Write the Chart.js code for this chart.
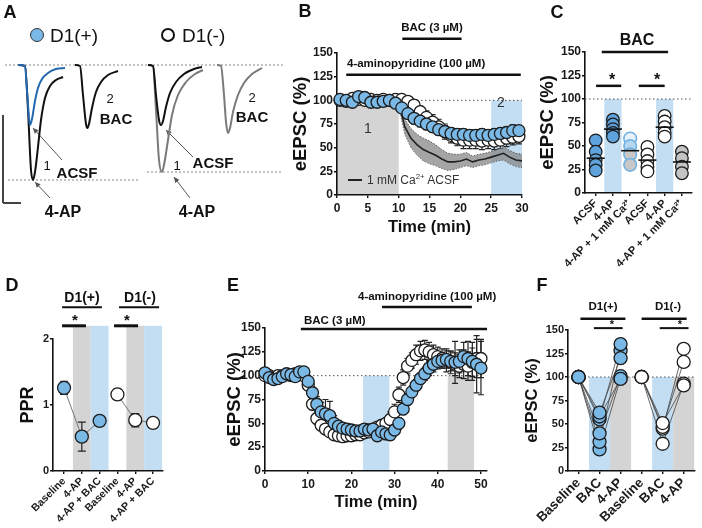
<!DOCTYPE html>
<html>
<head>
<meta charset="utf-8">
<script src="https://cdn.jsdelivr.net/npm/chart.js@4.4.1/dist/chart.umd.min.js"></script>
<style>
  body { margin: 0; background: #fff; }
  #fig { position: relative; width: 702px; height: 528px; overflow: hidden; background: #fff;
         font-family: Arial, "Liberation Sans", Helvetica, sans-serif; color: #111; }
  #fig canvas { position: absolute; }
  .t { position: absolute; white-space: nowrap; line-height: 1; }
  .t sup { font-size: 65%; line-height: 0; }
  .dot { position: absolute; border-radius: 50%; box-sizing: border-box; }
</style>
</head>
<body>
<div id="fig">
  <canvas id="chA" width="285" height="230" style="left:0;top:0"></canvas>
  <canvas id="chB" width="270" height="240" style="left:270px;top:0"></canvas>
  <canvas id="chC" width="174" height="270" style="left:528px;top:0"></canvas>
  <canvas id="chD" width="175" height="258" style="left:0;top:270px"></canvas>
  <canvas id="chE" width="290" height="258" style="left:215px;top:270px"></canvas>
  <canvas id="chF" width="197" height="258" style="left:505px;top:270px"></canvas>
</div>
<script>
// ====== DATA ======
// A: example traces (time in ms, current in pA)
const tPlus4AP = [18, 25, 28, 31, 33, 35, 38, 41, 45, 50, 56, 63]
const iPlus4AP = [0, -10, -450, -1050, -1150, -1070, -820, -550, -330, -210, -150, -120]
const tPlusAcsf = [18, 25, 27, 29, 30, 32, 35, 38, 42, 48, 56, 65]
const iPlusAcsf = [0, -10, -250, -530, -600, -540, -360, -230, -140, -80, -40, -30]
const tPlusBac = [75, 80, 83, 86, 87.5, 89, 92, 96, 101, 108, 118]
const iPlusBac = [0, -10, -300, -590, -630, -590, -430, -270, -170, -100, -60]
const tMinusAcsf = [148, 153, 156, 159, 161, 163, 166, 170, 176, 184, 194, 202]
const iMinusAcsf = [0, -10, -300, -550, -600, -560, -420, -280, -170, -90, -40, -20]
const tMinus4AP = [148, 153, 156, 159, 162, 164, 168, 172, 178, 186, 195, 203]
const iMinus4AP = [0, -10, -450, -950, -1070, -1000, -750, -500, -300, -170, -90, -50]
const tMinusBac = [217, 221, 224, 226, 228, 230, 233, 238, 244, 252, 262]
const iMinusBac = [0, -10, -300, -570, -680, -630, -470, -300, -180, -90, -30]

// B: time course, 4-AP then BAC
const timeB = [0.5, 1.5, 2.5, 3.5, 4.5, 5.5, 6.5, 7.5, 8.5, 9.5, 10.5, 11.5, 12.5, 13.5, 14.5,
    15.5, 16.5, 17.5, 18.5, 19.5, 20.5, 21.5, 22.5, 23.5, 24.5, 25.5, 26.5, 27.5, 28.5, 29.5]
const bPlus = [101, 100, 98, 104, 103, 98, 98, 99, 100, 97, 92, 86, 81, 78, 75, 72, 69, 67, 65, 64,
    64, 63, 63, 64, 63, 64, 65, 66, 68, 68]
const bPlusErr = [3, 3, 3, 3, 3, 3, 3, 3, 6, 3, 4, 5, 6, 6, 6, 6, 6, 6, 6, 6, 6, 6, 6, 6, 6, 6, 6, 6, 6, 5]
const bMinus = [100, 99, 102, 101, 100, 101, 100, 101, 100, 101, 101, 99, 95, 88, 82, 77, 72, 67, 63, 60,
    58, 58, 58, 57, 58, 57, 58, 60, 61, 62]
const bMinusErr = [3, 3, 3, 3, 3, 3, 3, 3, 3, 3, 3, 4, 5, 6, 7, 8, 8, 8, 8, 8, 9, 9, 9, 9, 9, 9, 9, 9, 8, 8]
const timeCa = [10, 11, 12, 13, 14, 15, 16, 17, 18, 19, 20, 21, 22, 23, 24, 25, 26, 27, 28, 29, 30]
const caMean = [98, 72, 60, 53, 48, 45, 42, 38, 35, 35, 36, 38, 35, 37, 38, 40, 42, 44, 40, 37, 36]
const caSem = [4, 8, 10, 11, 12, 12, 11, 10, 9, 8, 7, 7, 6, 6, 6, 6, 6, 7, 7, 7, 7]

// C: eEPSC after BAC per condition
const labelsC = ['ACSF', '4-AP', '4-AP + 1 mM Ca²⁺', 'ACSF', '4-AP', '4-AP + 1 mM Ca²⁺']
const cPlusAcsf = [56, 44, 35, 30, 24]
const cPlus4AP = [78, 73, 68, 64, 60]
const cPlusCa = [58, 50, 41, 30]
const cMinusAcsf = [49, 41, 34, 28, 23]
const cMinus4AP = [82, 76, 70, 64, 60]
const cMinusCa = [44, 37, 28, 21]
const meansC = [37, 68, 45, 35, 70, 33]

// D: paired-pulse ratio
const labelsD = ['Baseline', '4-AP', '4-AP + BAC', 'Baseline', '4-AP', '4-AP + BAC']
const pprPlus = [1.26, 0.52, 0.76]
const pprPlusErr = [0.1, 0.22, 0.06]
const pprMinus = [1.16, 0.77, 0.73]
const pprMinusErr = [0.08, 0.1, 0.08]

// E: time course, BAC then 4-AP
const timeE = [0, 1, 2, 3, 4, 5, 6, 7, 8, 9, 10, 11, 12, 13, 14, 15, 16, 17, 18, 19, 20, 21, 22, 23, 24, 25,
    26, 27, 28, 29, 30, 31, 32, 33, 34, 35, 36, 37, 38, 39, 40, 41, 42, 43, 44, 45, 46, 47, 48, 49, 50]
const ePlus = [103, 98, 96, 97, 99, 102, 101, 99, 104, 104, 94, 82, 70, 62, 60, 58, 50, 47, 45, 44,
    43, 42, 42, 44, 43, 44, 37, 41, 39, 38, 43, 50, 65, 75, 83, 90, 97, 102, 108, 112,
    115, 116, 117, 115, 114, 115, 120, 118, 115, 112, 108]
const ePlusErr = [3, 3, 3, 3, 3, 3, 3, 3, 3, 3, 4, 6, 8, 10, 15, 15, 8, 6, 5, 5, 5, 5, 5, 5, 5, 5, 6, 6, 6, 5,
    5, 6, 6, 6, 6, 6, 6, 7, 8, 8, 8, 8, 9, 10, 22, 12, 15, 18, 20, 30, 28]
const eMinus = [100, 100, 98, 100, 100, 101, 100, 102, 101, 100, 90, 70, 55, 48, 44, 41, 38, 37, 36, 37,
    37, 38, 38, 40, 41, 44, 46, 48, 50, 54, 62, 80, 98, 110, 116, 122, 126, 127, 125, 122,
    120, 118, 116, 114, 112, 110, 112, 110, 114, 118, 118]
const eMinusErr = [3, 3, 3, 3, 3, 3, 3, 3, 3, 3, 5, 6, 6, 5, 5, 5, 5, 5, 5, 5, 5, 5, 5, 5, 5, 5, 5, 5, 6, 8,
    8, 8, 8, 8, 8, 10, 10, 10, 10, 10, 10, 10, 12, 12, 12, 12, 15, 15, 15, 20, 20]

// F: individual cells, Baseline -> BAC -> 4-AP
const labelsF = ['Baseline', 'BAC', '4-AP', 'Baseline', 'BAC', '4-AP']
const fBaseline = 100
const fPlusBac = [62, 58, 55, 40, 31, 23]
const fPlus4AP = [120, 98, 135, 101, 128, 99]
const fMinusBac = [51, 47, 45, 29]
const fMinus4AP = [91, 116, 130, 93]

// ====== STYLE ======
const BLUE = '#7ab8e6'
const BLUE_C = '#5fa3dc'
const EDGE = '#1c1c1c'
const SHADE_BLUE = '#c3def3'
const SHADE_GRAY = '#d4d4d4'

Chart.defaults.font.family = 'Arial, "Liberation Sans", Helvetica, sans-serif'
Chart.defaults.font.weight = 'bold'
Chart.defaults.color = '#1a1a1a'

const xy = (xs, ys) => xs.map((x, i) => ({ x, y: ys[i] }))
const at = (x, ys) => ys.map((y) => ({ x, y }))

// shaded boxes + annotation lines, in data units
function marks(spec) {
    return {
        id: 'marks',
        beforeDraw(chart) {
            const { ctx, scales: { x, y } } = chart
            ;(spec.boxes || []).forEach((b) => {
                const l = x.getPixelForValue(b.x0), r = x.getPixelForValue(b.x1)
                const t = y.getPixelForValue(b.y1), bt = y.getPixelForValue(b.y0)
                ctx.fillStyle = b.color
                ctx.fillRect(l, t, r - l, bt - t)
            })
        },
        beforeDatasetsDraw(chart) {
            const { ctx, scales: { x, y } } = chart
            ;(spec.lines || []).forEach((s) => {
                const x0 = x.getPixelForValue(s.x0), x1 = x.getPixelForValue(s.x1 ?? s.x0)
                const y0 = y.getPixelForValue(s.y0), y1 = y.getPixelForValue(s.y1 ?? s.y0)
                ctx.save()
                ctx.strokeStyle = s.color || '#111'
                ctx.fillStyle = s.color || '#111'
                ctx.lineWidth = s.width || 1
                ctx.setLineDash(s.dash || [])
                ctx.beginPath()
                ctx.moveTo(x0, y0)
                ctx.lineTo(x1, y1)
                ctx.stroke()
                if (s.arrow) {
                    const a = Math.atan2(y1 - y0, x1 - x0)
                    ctx.setLineDash([])
                    ctx.beginPath()
                    ctx.moveTo(x1, y1)
                    ctx.lineTo(x1 - 6 * Math.cos(a - 0.45), y1 - 6 * Math.sin(a - 0.45))
                    ctx.lineTo(x1 - 6 * Math.cos(a + 0.45), y1 - 6 * Math.sin(a + 0.45))
                    ctx.closePath()
                    ctx.fill()
                }
                ctx.restore()
            })
        },
    }
}

// vertical SEM bars for datasets that carry an `errors` array
function errorBars(cap) {
    return {
        id: 'errorBars',
        beforeDatasetsDraw(chart) {
            const { ctx } = chart
            const ys = chart.scales.y
            chart.data.datasets.forEach((ds, i) => {
                if (!ds.errors) return
                const meta = chart.getDatasetMeta(i)
                ctx.save()
                ctx.strokeStyle = '#222'
                ctx.lineWidth = 1.2
                meta.data.forEach((pt, j) => {
                    const e = ds.errors[j]
                    if (!e) return
                    const v = ds.data[j].y
                    const top = ys.getPixelForValue(v + e), bot = ys.getPixelForValue(v - e)
                    ctx.beginPath()
                    ctx.moveTo(pt.x, top)
                    ctx.lineTo(pt.x, bot)
                    ctx.moveTo(pt.x - cap, top)
                    ctx.lineTo(pt.x + cap, top)
                    ctx.moveTo(pt.x - cap, bot)
                    ctx.lineTo(pt.x + cap, bot)
                    ctx.stroke()
                })
                ctx.restore()
            })
        },
    }
}

function axisY(o) {
    return {
        type: 'linear', min: o.min, max: o.max,
        afterBuildTicks: (s) => { s.ticks = o.ticks.map((v) => ({ value: v })) },
        afterFit: (s) => { s.width = o.w; s.paddingTop = 0; s.paddingBottom = 0 },
        border: { display: true, color: '#111', width: 1.6 },
        grid: { drawOnChartArea: false, color: '#111', tickLength: 3, lineWidth: 1.4 },
        ticks: { font: { size: o.fs, weight: 'bold' }, color: '#1a1a1a', padding: 1 },
        title: {
            display: true, text: o.title, color: '#111',
            font: { size: o.ts, weight: 'bold' }, padding: { top: o.tp, bottom: 0 },
        },
    }
}

function axisX(o) {
    return {
        type: 'linear', min: o.min, max: o.max,
        afterBuildTicks: (s) => { s.ticks = o.ticks.map((v) => ({ value: v })) },
        afterFit: (s) => { s.height = o.h; s.paddingLeft = 0; s.paddingRight = 0 },
        border: { display: true, color: '#111', width: 1.6 },
        grid: { drawOnChartArea: false, color: '#111', tickLength: 3, lineWidth: 1.4 },
        ticks: {
            font: { size: o.fs, weight: 'bold' }, color: '#1a1a1a', padding: o.pad ?? 2,
            autoSkip: false, minRotation: o.rot || 0, maxRotation: o.rot || 0,
            callback: o.labels ? (v) => o.labels[v] : (v) => v,
        },
        title: o.title
            ? { display: true, text: o.title, color: '#111', font: { size: o.ts, weight: 'bold' }, padding: { top: 0, bottom: o.tp } }
            : { display: false },
    }
}

const baseOpts = (padding, scales) => ({
    responsive: false,
    animation: false,
    layout: { padding },
    plugins: { legend: { display: false }, tooltip: { enabled: false } },
    scales,
})

const dots = (data, fill, extra) => Object.assign({
    data, pointRadius: 6, pointBackgroundColor: fill, pointBorderColor: EDGE,
    pointBorderWidth: 1.3, showLine: false, clip: false,
}, extra)

const trace = (ts, is, color) => ({
    data: xy(ts, is), showLine: true, pointRadius: 0, borderColor: color,
    borderWidth: 2, cubicInterpolationMode: 'monotone', clip: false,
})

// ====== A: traces ======
new Chart(document.getElementById('chA'), {
    type: 'scatter',
    data: {
        datasets: [
            trace(tPlusAcsf, iPlusAcsf, '#2468b0'),
            trace(tPlus4AP, iPlus4AP, '#111'),
            trace(tPlusBac, iPlusBac, '#111'),
            trace(tMinusAcsf, iMinusAcsf, '#111'),
            trace(tMinus4AP, iMinus4AP, '#7a7a7a'),
            trace(tMinusBac, iMinusBac, '#7a7a7a'),
        ],
    },
    options: baseOpts(0, {
        x: { type: 'linear', min: 0, max: 285, display: false },
        y: { type: 'linear', min: -1650, max: 650, display: false },
    }),
    plugins: [marks({
        lines: [
            { x0: 5, x1: 283, y0: 0, dash: [2, 2], color: '#888' },
            { x0: 8, x1: 140, y0: -1150, dash: [2, 2], color: '#888' },
            { x0: 147, x1: 282, y0: -1070, dash: [2, 2], color: '#888' },
            { x0: 3, y0: -500, y1: -1380, color: '#444', width: 2 },
            { x0: 3, x1: 21, y0: -1380, color: '#444', width: 2 },
            { x0: 62, y0: -950, x1: 33, y1: -630, color: '#555', arrow: true },
            { x0: 50, y0: -1330, x1: 35, y1: -1170, color: '#555', arrow: true },
            { x0: 193, y0: -920, x1: 166, y1: -650, color: '#555', arrow: true },
            { x0: 190, y0: -1330, x1: 174, y1: -1120, color: '#555', arrow: true },
        ],
    })],
})

// ====== B ======
new Chart(document.getElementById('chB'), {
    type: 'scatter',
    data: {
        datasets: [
            dots(xy(timeB, bPlus), BLUE, { errors: bPlusErr }),
            dots(xy(timeB, bMinus), '#fff', { errors: bMinusErr }),
            { data: xy(timeCa, caMean), showLine: true, pointRadius: 0, borderColor: '#222', borderWidth: 1.6 },
            {
                data: xy(timeCa, caMean.map((m, i) => m + caSem[i])), showLine: true, pointRadius: 0,
                borderColor: '#555', borderWidth: 1, borderDash: [1.5, 1.5], fill: '+1',
                backgroundColor: 'rgba(135,135,135,0.75)',
            },
            {
                data: xy(timeCa, caMean.map((m, i) => m - caSem[i])), showLine: true, pointRadius: 0,
                borderColor: '#555', borderWidth: 1, borderDash: [1.5, 1.5],
            },
        ],
    },
    options: baseOpts({ left: 0, right: 18, top: 53, bottom: 0 }, {
        x: axisX({ min: 0, max: 30, ticks: [0, 5, 10, 15, 20, 25, 30], h: 45, fs: 12, pad: 3, title: 'Time (min)', ts: 16.5, tp: 3 }),
        y: axisY({ min: 0, max: 150, ticks: [0, 25, 50, 75, 100, 125, 150], w: 67, fs: 12, title: 'eEPSC (%)', ts: 18.5, tp: 20 }),
    }),
    plugins: [marks({
        boxes: [
            { x0: 0, x1: 10, y0: 0, y1: 100, color: SHADE_GRAY },
            { x0: 25, x1: 30, y0: 0, y1: 100, color: SHADE_BLUE },
        ],
        lines: [
            { x0: 0, x1: 30, y0: 100, dash: [1.5, 2.5], color: '#555' },
            { x0: 10.6, x1: 20.2, y0: 165, width: 2.5 },
            { x0: 1.5, x1: 29.8, y0: 127, width: 2.5 },
        ],
    }), errorBars(3)],
})

// ====== C ======
new Chart(document.getElementById('chC'), {
    type: 'scatter',
    data: {
        datasets: [
            {
                data: xy([0, 1, 2, 3, 4, 5], meansC), pointStyle: 'line', pointRadius: 9,
                pointBorderWidth: 1.6, pointBorderColor: '#111', showLine: false, clip: false,
            },
            dots(at(0, cPlusAcsf), BLUE_C, { pointRadius: 6.3 }),
            dots(at(1, cPlus4AP), BLUE_C, { pointRadius: 6.3 }),
            dots(at(2, cPlusCa), ['#e8f2fa', '#b4d6f0', '#c8c8c8', '#c8c8c8'], { pointRadius: 6.3, pointBorderColor: '#6fb1e2', pointBorderWidth: 1.6 }),
            dots(at(3, cMinusAcsf), '#fff', { pointRadius: 6.3 }),
            dots(at(4, cMinus4AP), '#fff', { pointRadius: 6.3 }),
            dots(at(5, cMinusCa), '#c4c4c4', { pointRadius: 6.3 }),
        ],
    },
    options: baseOpts({ left: 0, right: 2, top: 52, bottom: 0 }, {
        x: axisX({ min: -0.62, max: 5.55, ticks: [0, 1, 2, 3, 4, 5], labels: labelsC, rot: 45, h: 77, fs: 11, pad: 1 }),
        y: axisY({ min: 0, max: 150, ticks: [0, 25, 50, 75, 100, 125, 150], w: 57, fs: 12, title: 'eEPSC (%)', ts: 18.5, tp: 9 }),
    }),
    plugins: [marks({
        boxes: [
            { x0: 0.5, x1: 1.5, y0: 0, y1: 100, color: SHADE_BLUE },
            { x0: 3.5, x1: 4.5, y0: 0, y1: 100, color: SHADE_BLUE },
        ],
        lines: [
            { x0: -0.62, x1: 5.55, y0: 100, dash: [1.5, 2.5], color: '#555' },
            { x0: 0.35, x1: 4.2, y0: 150, width: 2.5 },
            { x0: 0.02, x1: 1.48, y0: 114, width: 2.5 },
            { x0: 2.5, x1: 4.0, y0: 114, width: 2.5 },
        ],
    })],
})

// ====== D ======
new Chart(document.getElementById('chD'), {
    type: 'scatter',
    data: {
        datasets: [
            dots(xy([0, 1, 2], pprPlus), BLUE, { errors: pprPlusErr, showLine: true, borderColor: '#777', borderWidth: 1, pointRadius: 6.5 }),
            dots(xy([3, 4, 5], pprMinus), '#fff', { errors: pprMinusErr, showLine: true, borderColor: '#777', borderWidth: 1, pointRadius: 6.5 }),
        ],
    },
    options: baseOpts({ left: 0, right: 12, top: 69, bottom: 0 }, {
        x: axisX({ min: -0.62, max: 5.56, ticks: [0, 1, 2, 3, 4, 5], labels: labelsD, rot: 45, h: 57, fs: 10.5, pad: 1 }),
        y: axisY({ min: 0, max: 2, ticks: [0, 1, 2], w: 53, fs: 11, title: 'PPR', ts: 18, tp: 17 }),
    }),
    plugins: [marks({
        boxes: [
            { x0: 0.5, x1: 1.5, y0: 0, y1: 2.2, color: SHADE_GRAY },
            { x0: 1.5, x1: 2.5, y0: 0, y1: 2.2, color: SHADE_BLUE },
            { x0: 3.5, x1: 4.5, y0: 0, y1: 2.2, color: SHADE_GRAY },
            { x0: 4.5, x1: 5.5, y0: 0, y1: 2.2, color: SHADE_BLUE },
        ],
        lines: [
            { x0: -0.11, x1: 2.13, y0: 2.48, width: 2 },
            { x0: 3.09, x1: 5.34, y0: 2.48, width: 2 },
            { x0: -0.11, x1: 1.23, y0: 2.2, width: 3 },
            { x0: 2.81, x1: 4.16, y0: 2.2, width: 3 },
        ],
    }), errorBars(4)],
})

// ====== E ======
new Chart(document.getElementById('chE'), {
    type: 'scatter',
    data: {
        datasets: [
            dots(xy(timeE, ePlus), BLUE, { errors: ePlusErr }),
            dots(xy(timeE, eMinus), '#fff', { errors: eMinusErr }),
        ],
    },
    options: baseOpts({ left: 0, right: 18, top: 58, bottom: 0 }, {
        x: axisX({ min: 0, max: 51.4, ticks: [0, 10, 20, 30, 40, 50], h: 57, fs: 12, pad: 3, title: 'Time (min)', ts: 16.5, tp: 16 }),
        y: axisY({ min: 0, max: 150, ticks: [0, 25, 50, 75, 100, 125, 150], w: 50, fs: 12, title: 'eEPSC (%)', ts: 18.5, tp: 9 }),
    }),
    plugins: [marks({
        boxes: [
            { x0: 22.7, x1: 28.8, y0: 0, y1: 100, color: SHADE_BLUE },
            { x0: 42.3, x1: 48.4, y0: 0, y1: 100, color: SHADE_GRAY },
        ],
        lines: [
            { x0: 0, x1: 50, y0: 100, dash: [1.5, 2.5], color: '#555' },
            { x0: 8.3, x1: 51.4, y0: 149, width: 2.5 },
            { x0: 27.1, x1: 47.9, y0: 172, width: 2.5 },
        ],
    }), errorBars(3)],
})

// ====== F ======
const cellLine = (xs, vals, fill) => dots(xy(xs, vals), fill, {
    showLine: true, borderColor: '#444', borderWidth: 0.8, pointRadius: 6.5,
})
new Chart(document.getElementById('chF'), {
    type: 'scatter',
    data: {
        datasets: [
            ...fPlusBac.map((v, i) => cellLine([0, 1, 2], [fBaseline, v, fPlus4AP[i]], BLUE)),
            ...fMinusBac.map((v, i) => cellLine([3, 4, 5], [fBaseline, v, fMinus4AP[i]], '#fff')),
        ],
    },
    options: baseOpts({ left: 0, right: 2, top: 60, bottom: 0 }, {
        x: axisX({ min: -0.5, max: 5.5, ticks: [0, 1, 2, 3, 4, 5], labels: labelsF, rot: 45, h: 57, fs: 13.5, pad: 1 }),
        y: axisY({ min: 0, max: 150, ticks: [0, 25, 50, 75, 100, 125, 150], w: 63, fs: 11, title: 'eEPSC (%)', ts: 16.5, tp: 18 }),
    }),
    plugins: [marks({
        boxes: [
            { x0: 0.5, x1: 1.5, y0: 0, y1: 100, color: SHADE_BLUE },
            { x0: 1.5, x1: 2.5, y0: 0, y1: 100, color: SHADE_GRAY },
            { x0: 3.5, x1: 4.5, y0: 0, y1: 100, color: SHADE_BLUE },
            { x0: 4.5, x1: 5.5, y0: 0, y1: 100, color: SHADE_GRAY },
        ],
        lines: [
            { x0: -0.5, x1: 5.5, y0: 100, dash: [1.5, 2.5], color: '#555' },
            { x0: 0.09, x1: 2.23, y0: 162, width: 2.5 },
            { x0: 3.0, x1: 5.14, y0: 162, width: 2.5 },
            { x0: 0.73, x1: 2.1, y0: 152, width: 2 },
            { x0: 3.86, x1: 5.23, y0: 152, width: 2 },
        ],
    })],
})

// ====== TEXT LABELS ======
const fig = document.getElementById('fig')
function put(html, x, y, size, bold, align, color) {
    const el = document.createElement('div')
    el.className = 't'
    el.innerHTML = html
    el.style.left = x + 'px'
    el.style.top = y + 'px'
    el.style.fontSize = size + 'px'
    el.style.fontWeight = bold ? 'bold' : 'normal'
    if (color) el.style.color = color
    el.style.transform = align === 'l' ? 'translateY(-50%)' : 'translate(-50%,-50%)'
    fig.appendChild(el)
}
function dot(x, y, r, fill, border) {
    const el = document.createElement('div')
    el.className = 'dot'
    Object.assign(el.style, {
        left: x - r + 'px', top: y - r + 'px', width: 2 * r + 'px', height: 2 * r + 'px',
        background: fill, border: border,
    })
    fig.appendChild(el)
}

// A
put('A', 10, 12, 18, true)
dot(37, 35, 7, BLUE, '1.5px solid #333')
put('D1(+)', 50, 35, 19, false, 'l')
dot(168, 35, 7, '#fff', '2px solid #111')
put('D1(-)', 182, 35, 19, false, 'l')
put('2', 110, 98, 13, false)
put('BAC', 116, 118, 15, true)
put('1', 47, 165, 13, false)
put('ACSF', 77, 172, 15, true)
put('4-AP', 63, 212, 16, true)
put('2', 252, 97, 13, false)
put('BAC', 252, 116, 15, true)
put('1', 177, 165, 13, false)
put('ACSF', 213, 162, 15, true)
put('4-AP', 197, 212, 16, true)

// B
put('B', 305, 11, 18, true)
put('BAC (3 µM)', 432, 28, 11.5, true)
put('4-aminopyridine (100 µM)', 347, 64, 11.5, true, 'l')
put('1', 368, 128, 14, false, 'c', '#333')
put('2', 501, 102, 14, false, 'c', '#333')
const leg = document.createElement('div')
Object.assign(leg.style, { position: 'absolute', left: '348px', top: '179px', width: '14px', height: '2px', background: '#222' })
fig.appendChild(leg)
put('1 mM Ca<sup>2+</sup> ACSF', 367, 180, 12, false, 'l', '#333')

// C
put('C', 557, 12, 18, true)
put('BAC', 637, 40, 16, true)
put('*', 612, 80, 16, true)
put('*', 657, 80, 16, true)

// D
put('D', 12, 285, 18, true)
put('D1(+)', 82, 297, 14, true)
put('D1(-)', 140, 297, 14, true)
put('*', 75, 319, 15, true)
put('*', 127, 319, 15, true)

// E
put('E', 233, 285, 18, true)
put('BAC (3 µM)', 304, 321, 11.5, true, 'l')
put('4-aminopyridine (100 µM)', 358, 297, 11.5, true, 'l')

// F
put('F', 542, 285, 18, true)
put('D1(+)', 603, 307, 11.5, true)
put('D1(-)', 668, 307, 11.5, true)
put('*', 612, 324, 11, true)
put('*', 680, 324, 11, true)
</script>
</body>
</html>
